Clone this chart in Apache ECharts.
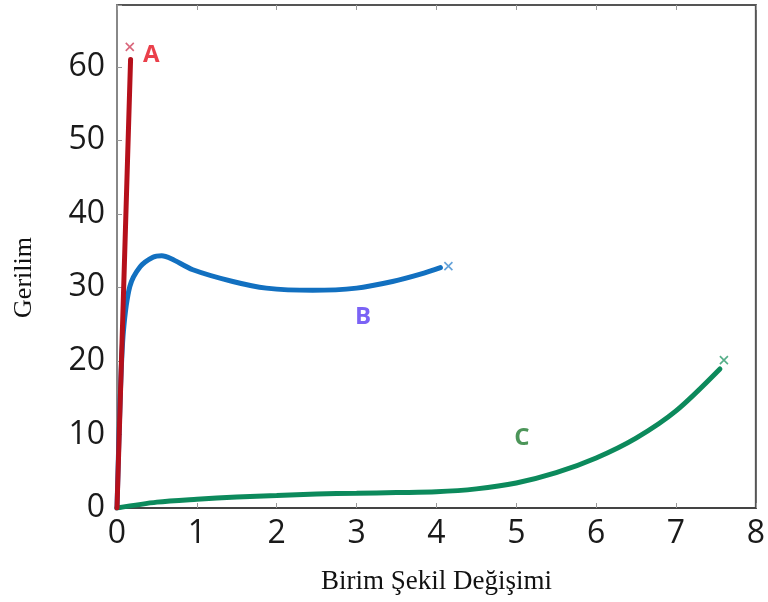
<!DOCTYPE html>
<html><head><meta charset="utf-8">
<script src="https://cdn.jsdelivr.net/npm/echarts@6/dist/echarts.min.js"></script>
<style>html,body{margin:0;padding:0;background:#fff}#c{width:768px;height:602px}</style>
</head><body><div id="c"></div>
<script>
const xTicks = [0,1,2,3,4,5,6,7,8];
const yTicks = [0,10,20,30,40,50,60];
const curveA = [[0,0],[0.17,61]];
const curveB = [[0,0],[0.04,15],[0.08,24],[0.16,30.1],[0.29,32.8],[0.45,34.1],[0.56,34.3],[0.68,33.9],[0.95,32.4],[1.45,30.8],[1.87,29.9],[2.45,29.6],[3.0,29.9],[3.45,30.8],[3.8,31.8],[4.05,32.7]];
const curveC = [[0,0],[0.5,0.8],[1,1.2],[1.5,1.5],[2,1.7],[2.5,1.9],[3,2.0],[3.5,2.1],[4,2.2],[4.5,2.6],[5,3.4],[5.5,4.8],[6,6.8],[6.5,9.5],[7,13.2],[7.55,18.9]];
const breakPoints = [[0.16,62.7],[4.15,32.9],[7.6,20.1]];
const curveNames = ['A','B','C'];
const labelPoints = [[0.43,61.6],[3.08,26.0],[5.07,9.5]];
const lineColors = ['#b5101b','#1270c0','#0c8a5c'];
const markColors = ['#d0405a','#3b8ad0','#2a9a6a'];
const labelColors = ['#e5101e','#5a3cf2','#1f7a30'];

const chart = echarts.init(document.getElementById('c'));
const xSym = 'path://M0,0L10,10M10,0L0,10';
const series = [];
const curves = [curveB, curveC, curveA];
const idx = [1,2,0];
idx.forEach((k,i)=>{
  series.push({type:'line', data:curves[i], smooth: k===0?false:0.3, showSymbol:false, symbol:'none',
    lineStyle:{color:lineColors[k], width:5, cap:'round'}, z: k===0?5:3});
});
breakPoints.forEach((p,k)=>{
  series.push({type:'scatter', data:[p], symbol:xSym, symbolSize:8,
    itemStyle:{color:'transparent', borderColor:markColors[k], borderWidth:1.6}, z:6});
});
labelPoints.forEach((p,k)=>{
  series.push({type:'scatter', data:[p], symbolSize:0, z:7,
    label:{show:true, position:'inside', formatter:curveNames[k], color:labelColors[k],
      fontFamily:'Open Sans', fontWeight:'bold', fontSize:24}});
});
const tickLabel = {fontFamily:'Open Sans', fontSize:32, color:'#1a1a1a'};
chart.setOption({
  animation:false,
  backgroundColor:'#fff',
  grid:{left:117, right:11, top:5, bottom:94, show:true, borderColor:'#555', borderWidth:2, backgroundColor:'transparent'},
  xAxis:[{type:'value', min:0, max:8, interval:1, name:'Birim Şekil Değişimi', nameLocation:'middle', nameGap:60,
    nameTextStyle:{fontFamily:'Liberation Serif', fontSize:27, color:'#111'},
    axisLine:{show:true, lineStyle:{color:'#444', width:2}}, axisTick:{show:true, inside:true, length:5, lineStyle:{color:'#999'}},
    splitLine:{show:false}, axisLabel:Object.assign({margin:10, formatter:v=>xTicks.includes(v)?String(v):''}, tickLabel)},
    {type:'value', min:0, max:8, interval:1, position:'top', axisLine:{show:false}, axisLabel:{show:false},
    axisTick:{show:true, inside:true, length:5, lineStyle:{color:'#999'}}, splitLine:{show:false}}],
  yAxis:{type:'value', min:0, max:68.4, interval:10, name:'Gerilim', nameLocation:'middle', nameGap:80, nameRotate:90,
    nameTextStyle:{fontFamily:'Liberation Serif', fontSize:26, color:'#111', padding:[0,42,0,0]},
    axisLine:{show:true, lineStyle:{color:'#888', width:2}}, axisTick:{show:true, inside:true, length:5, lineStyle:{color:'#999'}},
    splitLine:{show:false}, axisLabel:Object.assign({margin:12, formatter:v=>yTicks.includes(v)?String(v):''}, tickLabel)},
  series: series
});
</script></body></html>
